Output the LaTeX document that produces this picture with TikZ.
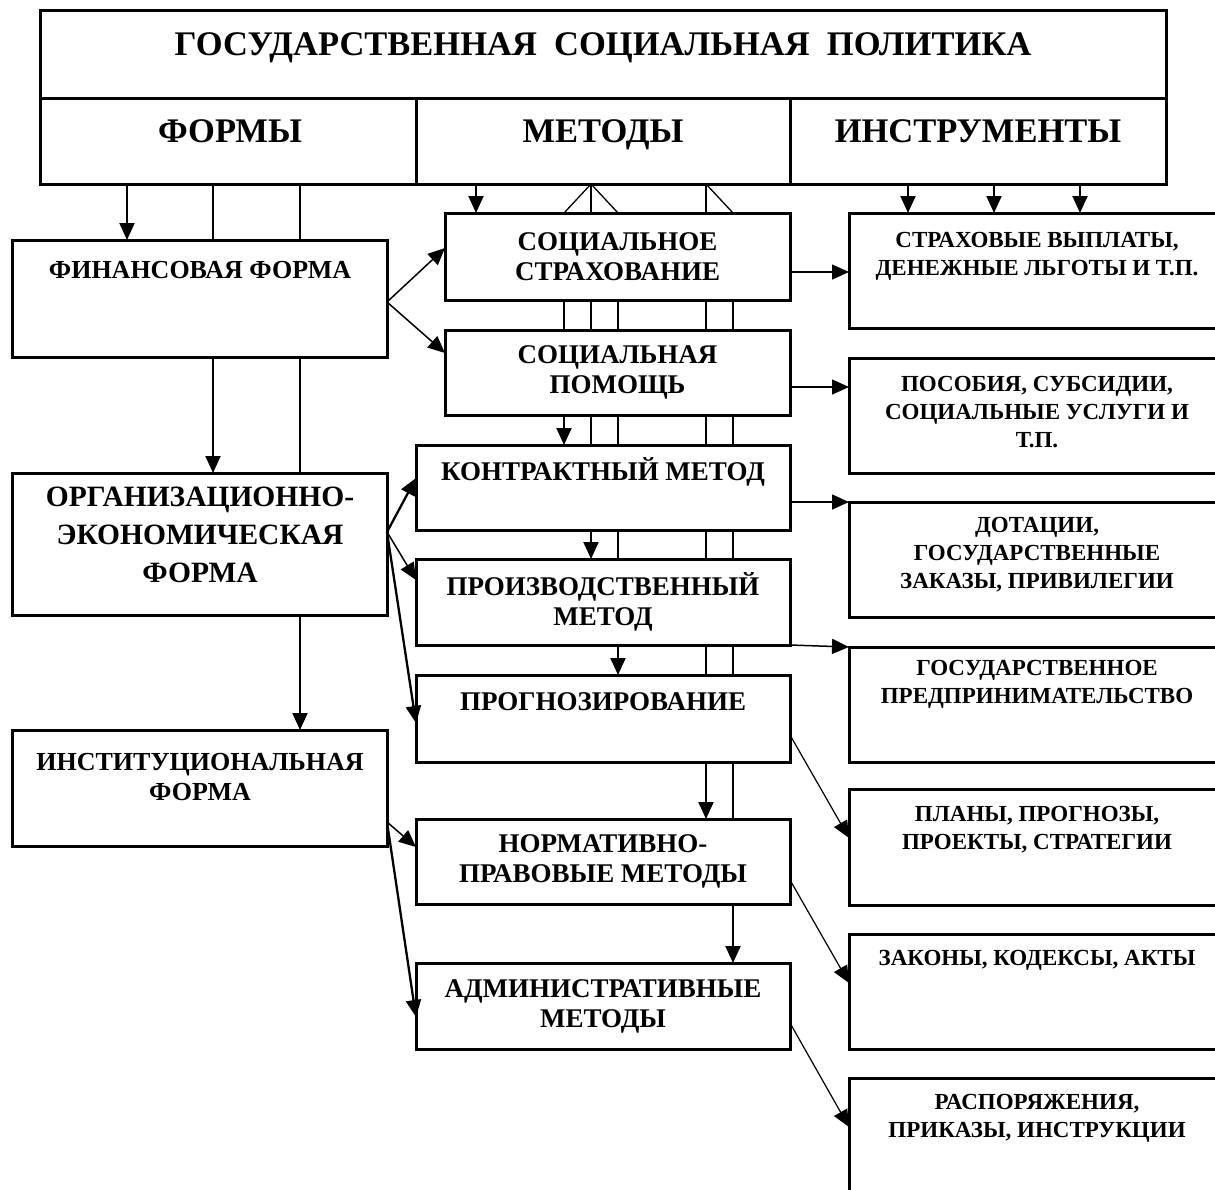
\documentclass[tikz,border=0pt]{standalone}
\usepackage{fontspec}
\setmainfont{Liberation Serif}
\usetikzlibrary{arrows.meta,backgrounds}

\begin{document}
\begin{tikzpicture}[x=1pt, y=-1pt,
    box/.style={draw, fill=white, line width=3pt, inner sep=0pt, outer sep=0pt, align=center},
    one/.style={text height=#1, text depth=0pt},
    big/.style={one=22.8pt, font=\fontsize{34.5}{40}\selectfont\bfseries},
    hd/.style={one=22.8pt, font=\fontsize{34.5}{40}\selectfont\bfseries},
    lt/.style={font=\fontsize{26}{30}\selectfont\bfseries, align=center},
    mt/.style={font=\fontsize{27}{30}\selectfont\bfseries, align=center},
    rt/.style={font=\fontsize{23}{28}\selectfont\bfseries, align=center},
    bus/.style={line width=2pt},
    ar/.style={-{Triangle[width=15pt,length=17pt]}}]
    \useasboundingbox (0,0) rectangle (1215,1189);

    \node[box, minimum width=1126pt, minimum height=88pt] (gsp) at (603,54) {};
    \node[big] (gspT) at (603,44) {ГОСУДАРСТВЕННАЯ\ \ СОЦИАЛЬНАЯ\ \ ПОЛИТИКА};
    \node[box, minimum width=376pt, minimum height=86pt] (frm) at (228,141) {};
    \node[hd] (frmT) at (230,131) {ФОРМЫ};
    \node[box, minimum width=374pt, minimum height=86pt] (mtd) at (603,141) {};
    \node[hd] (mtdT) at (603,131) {МЕТОДЫ};
    \node[box, minimum width=376pt, minimum height=86pt] (ins) at (978,141) {};
    \node[hd] (insT) at (978,131) {ИНСТРУМЕНТЫ};

    \node[box, minimum width=375pt, minimum height=117pt] (fin) at (199.5,298.5) {};
    \node[lt, one=17.2pt] (finT) at (200,270) {ФИНАНСОВАЯ ФОРМА};
    \node[box, minimum width=375pt, minimum height=142pt] (org) at (199.5,544) {};
    \node[lt, font=\fontsize{29.5}{38}\selectfont\bfseries] (orgT) at (200,535) {ОРГАНИЗАЦИОННО-\\ЭКОНОМИЧЕСКАЯ\\ФОРМА};
    \node[box, minimum width=375pt, minimum height=116pt] (inst) at (199.5,788) {};
    \node[lt] (instT) at (200,777) {ИНСТИТУЦИОНАЛЬНАЯ\\ФОРМА};

    \node[box, mt, minimum width=345pt, minimum height=87pt] (strah) at (617.5,256.5) {СОЦИАЛЬНОЕ\\СТРАХОВАНИЕ};
    \node[box, mt, minimum width=345pt, minimum height=85pt] (pom) at (617.5,372.5) {СОЦИАЛЬНАЯ\\ПОМОЩЬ};
    \node[box, minimum width=374pt, minimum height=85pt] (kontr) at (603,487.5) {};
    \node[mt, one=17.8pt] (kontrT) at (603,472) {КОНТРАКТНЫЙ МЕТОД};
    \node[box, mt, minimum width=374pt, minimum height=86pt] (proizv) at (603,602) {ПРОИЗВОДСТВЕННЫЙ\\МЕТОД};
    \node[box, minimum width=374pt, minimum height=87pt] (prog) at (603,718.5) {};
    \node[mt, one=17.8pt] (progT) at (603,702) {ПРОГНОЗИРОВАНИЕ};
    \node[box, mt, minimum width=374pt, minimum height=85pt] (norm) at (603,861.5) {НОРМАТИВНО-\\ПРАВОВЫЕ МЕТОДЫ};
    \node[box, mt, minimum width=374pt, minimum height=86pt] (admin) at (603,1006) {АДМИНИСТРАТИВНЫЕ\\МЕТОДЫ};

    \node[box, minimum width=376pt, minimum height=115pt] (vypl) at (1037,270.5) {};
    \node[rt] (vyplT) at (1037,256) {СТРАХОВЫЕ ВЫПЛАТЫ,\\ДЕНЕЖНЫЕ ЛЬГОТЫ И Т.П.};
    \node[box, minimum width=376pt, minimum height=115pt] (posob) at (1037,415.5) {};
    \node[rt] (posobT) at (1037,412) {ПОСОБИЯ, СУБСИДИИ,\\СОЦИАЛЬНЫЕ УСЛУГИ И\\Т.П.};
    \node[box, minimum width=376pt, minimum height=115pt] (dot) at (1037,559.5) {};
    \node[rt] (dotT) at (1037,555) {ДОТАЦИИ,\\ГОСУДАРСТВЕННЫЕ\\ЗАКАЗЫ, ПРИВИЛЕГИИ};
    \node[box, minimum width=376pt, minimum height=115pt] (gpred) at (1037,704.5) {};
    \node[rt] (gpredT) at (1037,684) {ГОСУДАРСТВЕННОЕ\\ПРЕДПРИНИМАТЕЛЬСТВО};
    \node[box, minimum width=376pt, minimum height=116pt] (plan) at (1037,847) {};
    \node[rt] (planT) at (1037,830) {ПЛАНЫ, ПРОГНОЗЫ,\\ПРОЕКТЫ, СТРАТЕГИИ};
    \node[box, minimum width=376pt, minimum height=115pt] (zak) at (1037,991.5) {};
    \node[rt, one=15.2pt] (zakT) at (1037,958) {ЗАКОНЫ, КОДЕКСЫ, АКТЫ};
    \node[box, minimum width=376pt, minimum height=115pt] (rasp) at (1037,1135.5) {};
    \node[rt] (raspT) at (1037,1118) {РАСПОРЯЖЕНИЯ,\\ПРИКАЗЫ, ИНСТРУКЦИИ};

    \begin{scope}[on background layer]
        \draw[bus, ar] (127,0 |- frm.south) -- (127,0 |- fin.north);
        \foreach \x/\b in {213/org, 300/inst}
            \draw[bus, ar] (\x,0 |- frm.south) -- (\x,0 |- \b.north);
        \draw[bus, ar] (476,0 |- mtd.south) -- (476,0 |- strah.north);
        \foreach \x/\a/\b in {564/strah.north/kontr, 591/mtd.south/proizv, 618/strah.north/prog, 706/mtd.south/norm, 733/strah.north/admin}
            \draw[bus, ar] (\x,0 |- \a) -- (\x,0 |- \b.north);
        \draw[line width=1.3pt] (591,0 |- mtd.south) -- (564,0 |- strah.north)
            (591,0 |- mtd.south) -- (618,0 |- strah.north)
            (706,0 |- mtd.south) -- (733,0 |- strah.north);
        \foreach \x in {908,994,1080}
            \draw[bus, ar] (\x,0 |- ins.south) -- (\x,0 |- vypl.north);
    \end{scope}

    \draw[line width=1.5pt, ar] (fin.east |- 0,302) -- (strah.west |- 0,248);
    \draw[line width=1.5pt, ar] (fin.east |- 0,302) -- (pom.west |- 0,353);
    \draw[line width=2.3pt, ar] (org.east |- 0,532) -- (kontr.west |- 0,478);
    \draw[line width=1.5pt, ar] (org.east |- 0,532) -- (proizv.west |- 0,580);
    \draw[line width=2.3pt, ar] (org.east |- 0,532) -- (prog.west |- 0,723);
    \draw[line width=1.5pt, ar] (inst.east |- 0,822) -- (norm.west |- 0,847);
    \draw[line width=2.3pt, ar] (inst.east |- 0,822) -- (admin.west |- 0,1017);

    \draw[line width=1.5pt, ar] (strah.east |- 0,272) -- (vypl.west |- 0,272);
    \draw[line width=1.5pt, ar] (pom.east |- 0,387) -- (posob.west |- 0,387);
    \draw[line width=1.5pt, ar] (kontr.east |- 0,502) -- (dot.north west);
    \draw[line width=1.5pt, ar] (proizv.south east) -- (gpred.north west);
    \draw[line width=1.2pt, ar] (prog.east |- 0,735) -- (plan.west |- 0,838);
    \draw[line width=1.2pt, ar] (norm.east |- 0,880) -- (zak.west |- 0,983);
    \draw[line width=1.2pt, ar] (admin.east |- 0,1023) -- (rasp.west |- 0,1127);
\end{tikzpicture}
\end{document}
